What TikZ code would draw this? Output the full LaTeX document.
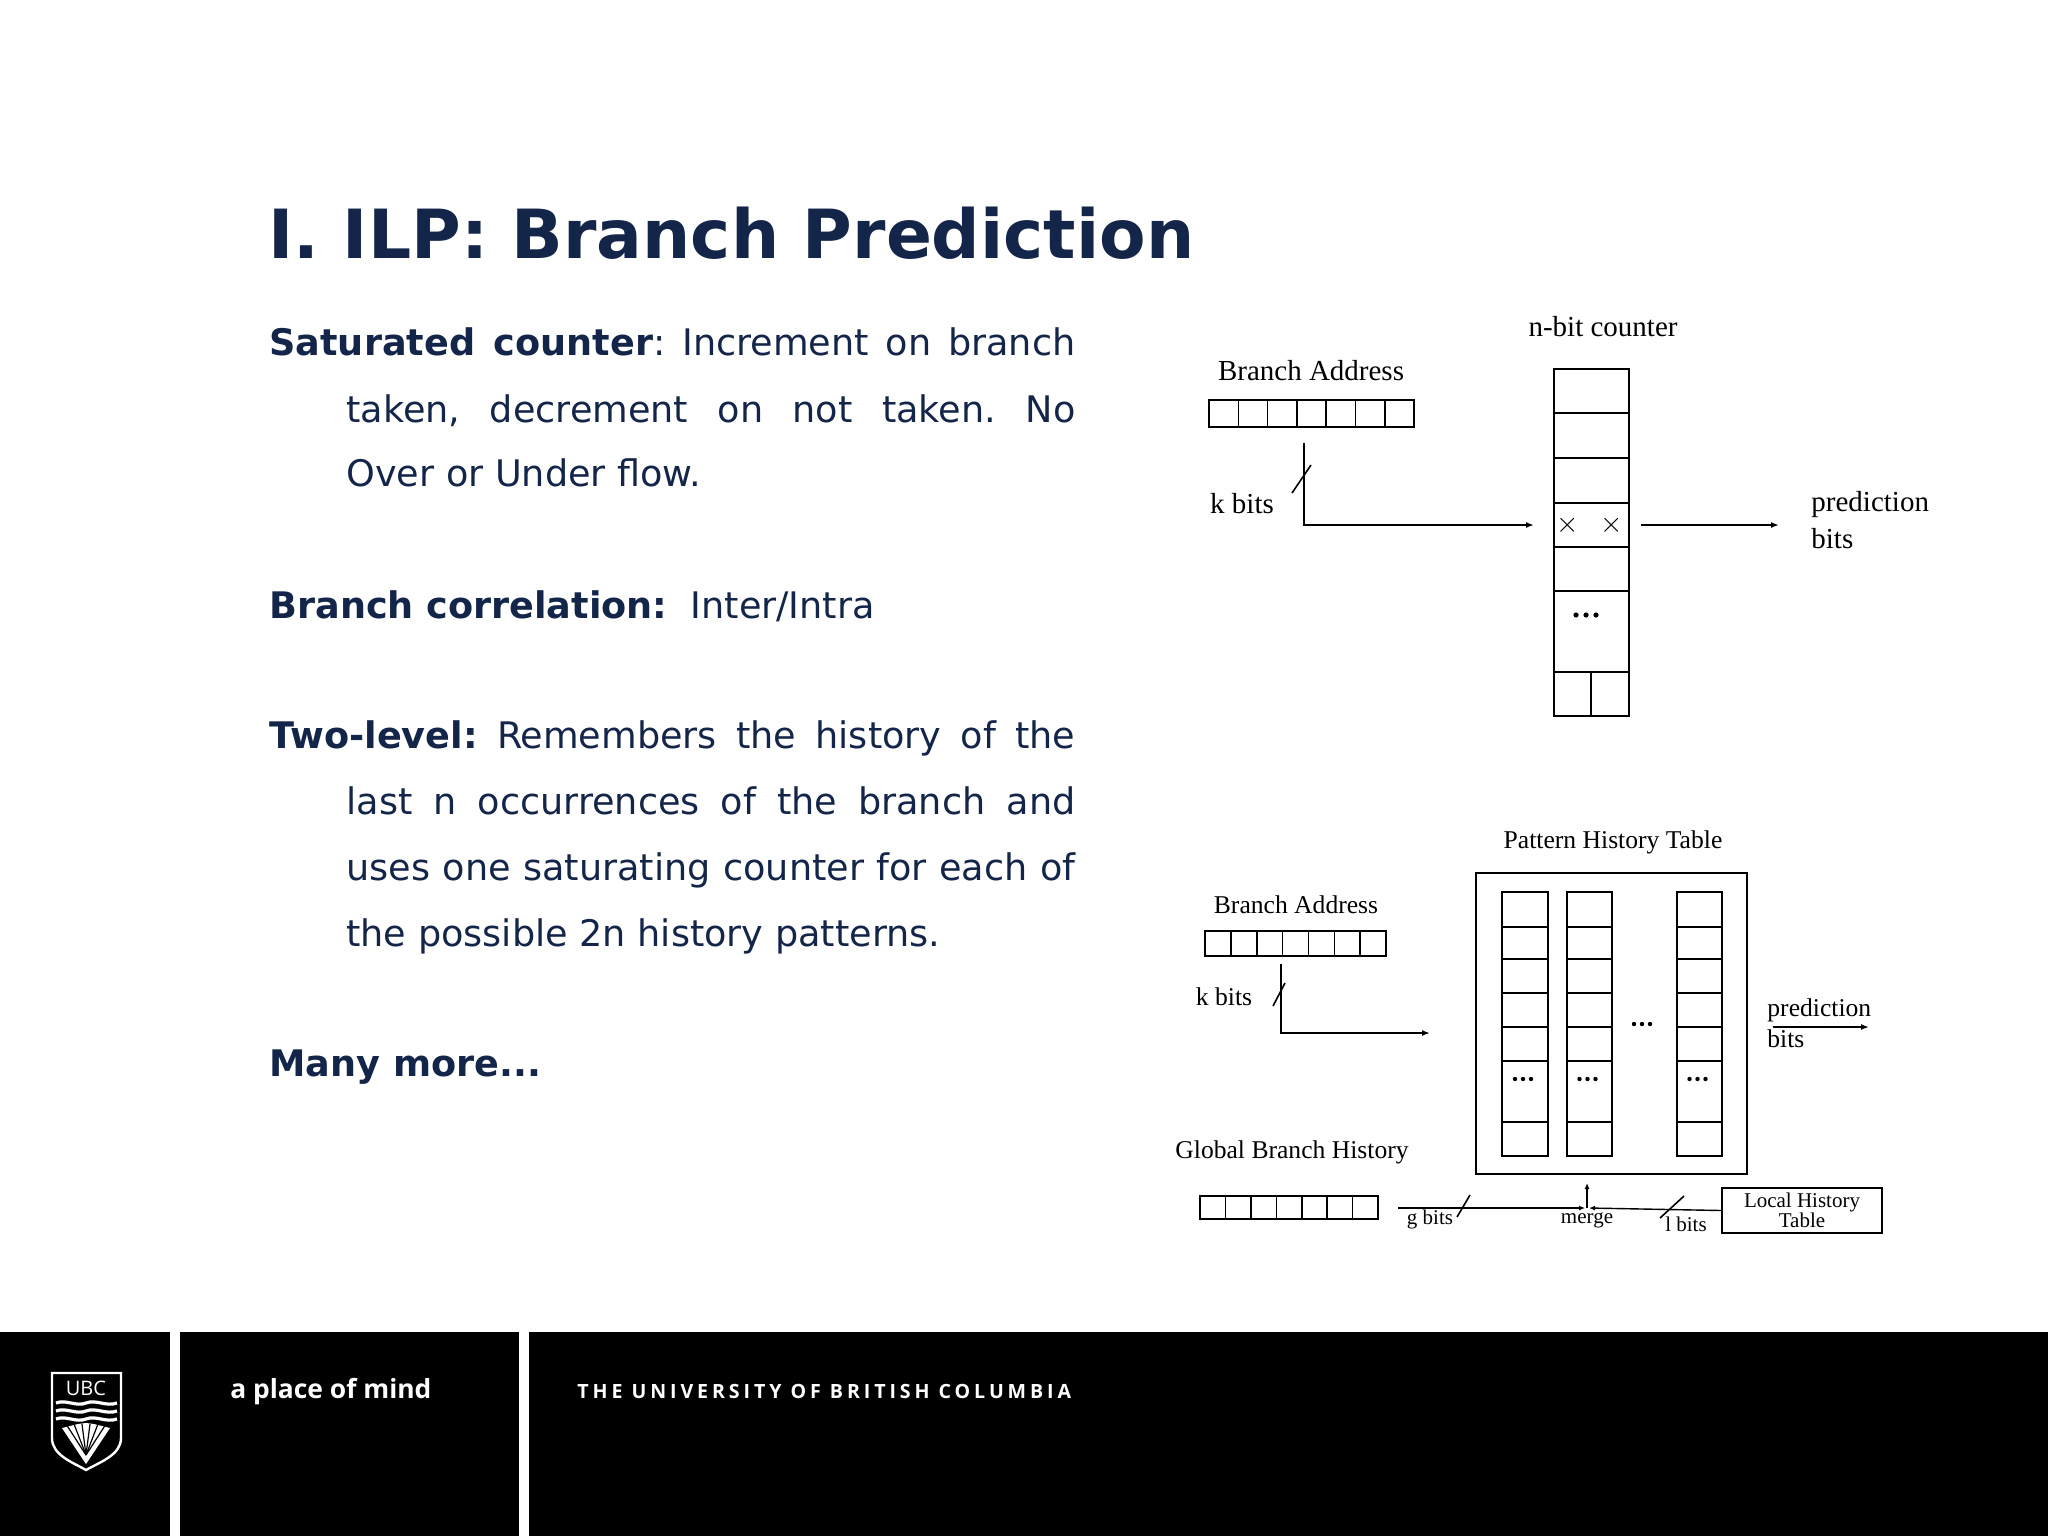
\documentclass[tikz,border=0pt]{standalone}
\usepackage{fontspec}
\setmainfont{DejaVu Sans}
\newfontfamily\dia{Liberation Serif}
\newfontfamily\foot{Open Sans}
\usetikzlibrary{arrows.meta}
\definecolor{navy}{HTML}{14254A}
\begin{document}
\frenchspacing
\begin{tikzpicture}[x=0.5pt,y=-0.5pt,
  body/.style={anchor=base west,inner sep=0,text=navy,font=\fontsize{18.3}{20}\selectfont},
  lab/.style={inner sep=0,font=\dia\fontsize{14.5}{16}\selectfont},
  labm/.style={inner sep=0,font=\dia\fontsize{12.8}{14}\selectfont},
  labs/.style={inner sep=0,font=\dia\fontsize{10.5}{11}\selectfont},
  cell/.style={draw,line width=0.8pt},
  arr/.style={-{Latex[length=4pt,width=3pt]},line width=0.8pt},
  sarr/.style={-{Latex[length=3pt,width=2.5pt]},line width=0.7pt},
  ln/.style={line width=0.8pt},
  dot/.style={fill,circle,inner sep=0,minimum size=2.6pt}]
\useasboundingbox (0,0) rectangle (2048,1536);
% title
\node[anchor=base west,inner sep=0,text=navy,font=\bfseries\fontsize{34}{40}\selectfont] (title) at (268,258) {\resizebox{463pt}{!}{I. ILP: Branch Prediction}};
% body
\node[body] (l1) at (269,355) {\makebox[403pt][s]{\textbf{Saturated counter}: Increment on branch}};
\node[body] (l2) at (346,422) {\makebox[364.5pt][s]{taken, decrement on not taken. No}};
\node[body] (l3) at (346,486) {Over or Under flow.};
\node[body] (l4) at (269,618) {\textbf{Branch correlation:}\ \ Inter/Intra};
\node[body] (l5) at (269,748) {\makebox[403pt][s]{\textbf{Two-level:} Remembers the history of the}};
\node[body] (l6) at (346,814) {\makebox[364.5pt][s]{last n occurrences of the branch and}};
\node[body] (l7) at (346,880) {\makebox[364.5pt][s]{uses one saturating counter for each of}};
\node[body] (l8) at (346,946) {the possible 2n history patterns.};
\node[body] (l9) at (269,1076) {\textbf{Many more...}};

% ===== diagram 1
\node[lab] (nbc) at (1603,327) {n-bit counter};
\node[lab] (ba1) at (1311,371) {Branch Address};
\foreach \i in {0,...,6} \draw[cell] ({1209+\i*205/7},400) rectangle ({1209+(\i+1)*205/7},427);
\coordinate (k1s) at (1304,443);
\coordinate (k1e) at (1534,525);
\draw[arr] (k1s) |- (k1e);
\draw[ln] (1292,493) -- (1311,465);
\node[lab] (kb1) at (1242,504) {k bits};
\foreach \a/\b in {369/413,413/458,458/503,503/547,547/591,591/672,672/716}
  \draw[cell] (1554,\a) rectangle (1629,\b);
\draw[ln] (1591,672) -- (1591,716);
\node[lab] (x1) at (1568,525) {$\times$};
\node[lab] (x2) at (1612,525) {$\times$};
\foreach \x in {1576,1586,1596} \node[dot] at (\x,615) {};
\coordinate (o1s) at (1641,525);
\coordinate (o1e) at (1779,525);
\draw[arr] (o1s) -- (o1e);
\node[lab,anchor=west] (pb1) at (1811,505) {prediction};
\node[lab,anchor=west] (pb1b) at (1811,539) {bits};

% ===== diagram 2
\node[labm] (pht) at (1613,842) {Pattern History Table};
\draw[cell] (1476,873) rectangle (1747,1174);
\foreach \xa/\xb in {1502/1548,1567/1612,1677/1722}{
  \foreach \a/\b in {892/927,927/959,959/993,993/1027,1027/1061,1061/1122,1122/1156}
    \draw[cell] (\xa,\a) rectangle (\xb,\b);
  \foreach \d in {-8,0,8} \node[dot,minimum size=2.2pt] at ({(\xa+\xb)/2+\d-2},1079) {};
}
\foreach \d in {-8,0,8} \node[dot,minimum size=2.2pt] at (1642+\d,1024) {};
\node[labm] (ba2) at (1296,905) {Branch Address};
\foreach \i in {0,...,6} \draw[cell] ({1205+\i*181/7},931) rectangle ({1205+(\i+1)*181/7},956);
\coordinate (k2s) at (1281,964);
\coordinate (k2e) at (1430,1033);
\draw[arr] (k2s) |- (k2e);
\draw[ln] (1273,1006) -- (1285,983);
\node[labm] (kb2) at (1224,997) {k bits};
\node[labm,anchor=west] (pb2) at (1767,1010) {prediction};
\node[labm,anchor=west] (pb2b) at (1767,1039) {bits};
\coordinate (o2s) at (1773,1027);
\coordinate (o2e) at (1869,1027);
\draw[arr] (o2s) -- (o2e);
\node[labm] (gbh) at (1292,1152) {Global Branch History};
\foreach \i in {0,...,6} \draw[cell] ({1200+\i*178/7},1196) rectangle ({1200+(\i+1)*178/7},1219);
\node[draw,line width=0.8pt,minimum width=80pt,minimum height=22.5pt,inner sep=0] (lht) at (1802,1210.5) {};
\node[labs,align=center] (lhtt) at (1802,1210) {Local History\\[-1pt]Table};
\coordinate (gs) at (1398,1208);
\coordinate (mg) at (1587,1208);
\coordinate (mgu) at (1587,1183);
\draw[sarr] (gs) -- (1585,1208);
\draw[sarr] (lht.west) -- (1589,1208);
\draw[sarr] (mg) -- (mgu);
\draw[ln] (1457,1217) -- (1470,1195);
\draw[ln] (1660,1218) -- (1684,1196);
\node[labs] (gb) at (1430,1219) {g bits};
\node[labs] (mgl) at (1587,1220) {merge};
\node[labs] (lb) at (1686,1224) {l bits};

% ===== footer
\fill[black] (0,1332) rectangle (2048,1536);
\fill[white] (170,1332) rectangle (180,1536);
\fill[white] (519,1332) rectangle (529,1536);
% UBC logo
\draw[white,line width=1.2pt,fill=black] (52,1373) -- (121,1373) -- (121,1438) .. controls (121,1455) and (100,1462) .. (86,1470) .. controls (72,1462) and (52,1455) .. (52,1438) -- cycle;
\node[white,inner sep=0,font=\foot\fontsize{10}{10}\selectfont] (ubc) at (86,1388) {UBC};
\foreach \yy in {1403,1411,1419}
  \draw[white,line width=1.6pt] (56,\yy) .. controls (66,\yy-4) and (76,\yy+4) .. (86,\yy) .. controls (96,\yy-4) and (106,\yy+4) .. (117,\yy);
\fill[white] (86,1464) -- (62,1428) -- (70,1426) -- (78,1424) -- (86,1423) -- (94,1424) -- (102,1426) -- (110,1428) -- cycle;
\foreach \xx in {66,74,82,90,98,106}
  \draw[black,line width=0.6pt] (86,1455) -- (\xx,1424);
\node[white,anchor=base west,inner sep=0,font=\foot\bfseries\fontsize{13.2}{14}\selectfont] (apom) at (230,1398) {a place of mind};
\node[white,anchor=base west,inner sep=0,font=\foot\bfseries\addfontfeature{LetterSpace=20}\fontsize{9.8}{10}\selectfont] (ubcn) at (577,1398) {THE UNIVERSITY OF BRITISH COLUMBIA};
\end{tikzpicture}
\end{document}
